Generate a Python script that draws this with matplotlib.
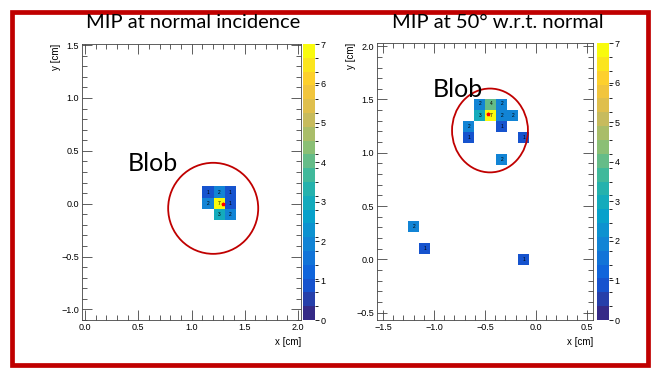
import numpy as np
import matplotlib
matplotlib.use("Agg")
import matplotlib.pyplot as plt
from matplotlib.colors import LinearSegmentedColormap, BoundaryNorm
from matplotlib.patches import Ellipse, Rectangle
from matplotlib.ticker import MultipleLocator

# --- data: hit cells (cell centres in cm) and counts ---
left_x = [1.155, 1.259, 1.362, 1.155, 1.259, 1.362, 1.259, 1.362]
left_y = [0.110, 0.110, 0.110, 0.003, 0.003, 0.003, -0.105, -0.105]
left_counts = [1, 2, 1, 2, 7, 1, 3, 2]

right_x = [-1.198, -1.090, -0.118,
           -0.550, -0.442, -0.334,
           -0.550, -0.442, -0.334, -0.226,
           -0.658, -0.334,
           -0.658, -0.118,
           -0.334]
right_y = [0.312, 0.103, -0.001,
           1.458, 1.458, 1.458,
           1.354, 1.354, 1.354, 1.354,
           1.250, 1.250,
           1.146, 1.146,
           0.938]
right_counts = [2, 1, 1,
                2, 4, 2,
                3, 7, 2, 2,
                2, 1,
                1, 1,
                2]

left_title = "MIP at normal incidence"
right_title = "MIP at 50° w.r.t. normal"

# ROOT kBird palette
stops = [0.0, 0.125, 0.25, 0.375, 0.5, 0.625, 0.75, 0.875, 1.0]
red = [0.2082, 0.0592, 0.0780, 0.0232, 0.1802, 0.5301, 0.8186, 0.9956, 0.9764]
green = [0.1664, 0.3599, 0.5041, 0.6419, 0.7178, 0.7492, 0.7328, 0.7862, 0.9832]
blue = [0.5293, 0.8684, 0.8385, 0.7914, 0.6425, 0.4662, 0.3499, 0.1968, 0.0539]
bird = LinearSegmentedColormap.from_list(
    "bird", [(s, (r, g, b)) for s, r, g, b in zip(stops, red, green, blue)])
levels = np.linspace(0, 7, 21)
norm = BoundaryNorm(levels, bird.N)

W, H = 654, 369
fig = plt.figure(figsize=(W / 100, H / 100), dpi=100)

def box(x0, y0, x1, y1):
    # pixel box (top-left origin) -> figure fraction
    return [x0 / W, 1 - y1 / H, (x1 - x0) / W, (y1 - y0) / H]

tick_family = ["Liberation Sans", "DejaVu Sans"]
title_font = ["Lato", "DejaVu Sans"]


def panel(ax_box, cb_box, xs, ys, counts, xlim, ylim, x0, y0, px, py,
          title, title_x, blob_xy, ell, hit):
    ax = fig.add_axes(box(*ax_box))
    cax = fig.add_axes(box(*cb_box))
    xedges = np.arange(x0, xlim[1] + px, px)
    yedges = np.arange(y0, ylim[1] + py, py)
    h, _, _, im = ax.hist2d(xs, ys, bins=[xedges, yedges], weights=counts,
                            cmin=0.5, cmap=bird, norm=norm)
    for x, y, c in zip(xs, ys, counts):
        ax.text(x, y, str(c), ha="center", va="center", fontsize=3.5,
                color="black", family=tick_family)
    ax.plot(hit[0], hit[1], marker="*", color="red", markersize=2.5,
            linestyle="none")
    ax.set_xlim(*xlim)
    ax.set_ylim(*ylim)
    ax.xaxis.set_major_locator(MultipleLocator(0.5))
    ax.yaxis.set_major_locator(MultipleLocator(0.5))
    ax.xaxis.set_minor_locator(MultipleLocator(0.1))
    ax.yaxis.set_minor_locator(MultipleLocator(0.1))
    ax.tick_params(which="both", direction="in", top=True, right=True,
                   width=0.6, color="#444444", labelsize=6.5, pad=2)
    ax.tick_params(which="major", length=7)
    ax.tick_params(which="minor", length=3.5)
    for lab in ax.get_xticklabels() + ax.get_yticklabels():
        lab.set_family(tick_family)
    for s in ax.spines.values():
        s.set_linewidth(0.6)
        s.set_color("#444444")
    ax.set_xlabel("x [cm]", fontsize=7, loc="right", labelpad=4,
                  family=tick_family)
    ax.set_ylabel("y [cm]", fontsize=7, loc="top", labelpad=0,
                  family=tick_family)
    ax.add_patch(Ellipse(ell[0], ell[1], ell[2], fill=False,
                         edgecolor="#c00000", linewidth=1.3))
    ax.text(blob_xy[0], blob_xy[1], "Blob", fontsize=18, family=title_font,
            ha="center", va="center")

    cb = fig.colorbar(im, cax=cax, ticks=range(0, 8))
    cb.outline.set_visible(False)
    cax.tick_params(labelsize=6.5, length=3, width=0.6, pad=1)
    for lab in cax.get_yticklabels():
        lab.set_family(tick_family)

    fig.text(title_x / W, 1 - 22 / H, title, fontsize=14.5, family=title_font,
             ha="center", va="center")
    return ax


panel((82, 44, 301, 320), (303, 44, 315, 320),
      left_x, left_y, left_counts,
      (-0.03, 2.03), (-1.10, 1.51), 1.103, -0.158, 0.104, 0.107,
      left_title, 193, (0.64, 0.38),
      ((1.204, -0.044), 0.847, 0.861), (1.295, 0.0))

panel((377, 43, 593, 320), (597, 43, 609, 320),
      right_x, right_y, right_counts,
      (-1.56, 0.56), (-0.57, 2.03), -1.252, -0.053, 0.108, 0.104,
      right_title, 498, (-0.77, 1.59),
      ((-0.451, 1.209), 0.745, 0.787), (-0.473, 1.362))

# red border around the whole slide
fig.patches.append(Rectangle((12 / W, 1 - 365 / H), (648 - 12) / W, (365 - 12) / H,
                             transform=fig.transFigure, fill=False,
                             edgecolor="#c00000", linewidth=3.4))

fig.savefig("out.png", dpi=100)
